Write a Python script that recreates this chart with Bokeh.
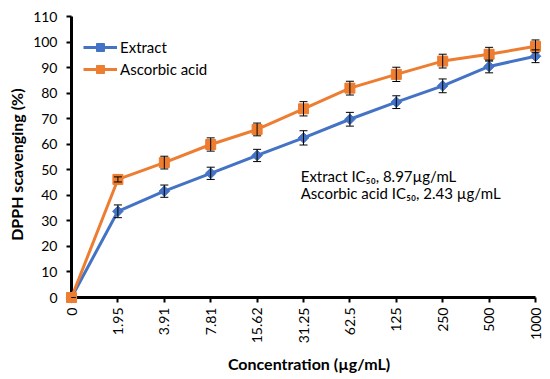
import math
from bokeh.plotting import figure
from bokeh.models import (ColumnDataSource, Range1d, FixedTicker, Whisker, TeeHead,
                          Label, Legend, LegendItem)
from bokeh.core.properties import value
from bokeh.embed import file_html
from bokeh.resources import INLINE

# ---- data ----
concentrations = ["0", "1.95", "3.91", "7.81", "15.62", "31.25", "62.5", "125", "250", "500", "1000"]
extract = [0, 33.8, 41.7, 48.7, 55.7, 62.6, 69.9, 76.6, 83.0, 90.6, 94.6]
extract_err = [0, 2.5, 2.4, 2.4, 2.4, 2.8, 2.7, 2.5, 2.7, 2.5, 2.5]
ascorbic = [0, 46.3, 52.9, 60.0, 65.9, 74.0, 82.1, 87.5, 92.7, 95.4, 98.5]
ascorbic_err = [0, 1.0, 2.5, 2.6, 2.5, 2.8, 2.7, 2.8, 2.7, 2.7, 2.5]
y_ticks = list(range(0, 111, 10))

BLUE = "#4472C4"
ORANGE = "#ED7D31"
FONT = "Lato"

idx = list(range(len(concentrations)))
src = ColumnDataSource(dict(
    x=idx,
    ext=extract,
    ext_lo=[v - e for v, e in zip(extract, extract_err)],
    ext_hi=[v + e for v, e in zip(extract, extract_err)],
    asc=ascorbic,
    asc_lo=[v - e for v, e in zip(ascorbic, ascorbic_err)],
    asc_hi=[v + e for v, e in zip(ascorbic, ascorbic_err)],
))

p = figure(width=550, height=379, output_backend="svg", toolbar_location=None,
           x_range=Range1d(0, 10.237), y_range=Range1d(0, 113.33),
           min_border_left=71, min_border_right=4, min_border_top=8, min_border_bottom=82)
p.outline_line_color = None
p.grid.visible = False
p.background_fill_color = "white"
p.border_fill_color = "white"

# axes
for ax in (p.xaxis[0], p.yaxis[0]):
    ax.axis_line_width = 3
    ax.axis_line_color = "black"
    ax.major_tick_line_width = 2
    ax.major_tick_line_color = "black"
    ax.major_tick_in = 0
    ax.major_tick_out = 5
    ax.minor_tick_line_color = None
    ax.major_label_text_font = FONT
    ax.major_label_text_font_size = "14px"
    ax.major_label_text_color = "black"
    ax.axis_label_text_font = FONT
    ax.axis_label_text_font_size = "16px"
    ax.axis_label_text_font_style = "bold"
    ax.axis_label_text_color = "black"

p.xaxis.bounds = (0, len(concentrations) - 1)
p.xaxis.ticker = FixedTicker(ticks=idx)
p.xaxis.major_label_overrides = {i: c for i, c in enumerate(concentrations)}
p.xaxis.major_label_orientation = math.pi / 2
p.xaxis.major_label_standoff = 5
p.xaxis.axis_label = "Concentration (µg/mL)"
p.xaxis.axis_label_standoff = 8

p.yaxis.bounds = (0, 110)
p.yaxis.ticker = FixedTicker(ticks=y_ticks)
p.yaxis.major_label_standoff = 9

# y-axis title, centred on the plotted value range like the original
p.text(x=[-1.184], y=[52.1], text=["DPPH scavenging (%)"], angle=math.pi / 2,
       text_align="center", text_baseline="middle", text_font=value(FONT),
       text_font_size="16px", text_font_style="bold", text_color="black",
       level="overlay")

# series
l1 = p.line("x", "ext", source=src, line_color=BLUE, line_width=3, level="overlay")
m1 = p.scatter("x", "ext", source=src, marker="square", angle=math.pi / 4, size=7.5,
               fill_color=BLUE, line_color=BLUE, level="overlay")
l2 = p.line("x", "asc", source=src, line_color=ORANGE, line_width=3, level="overlay")
m2 = p.scatter("x", "asc", source=src, marker="square", size=10,
               fill_color=ORANGE, line_color=ORANGE, level="overlay")

for lo, hi in (("ext_lo", "ext_hi"), ("asc_lo", "asc_hi")):
    w = Whisker(source=src, base="x", lower=lo, upper=hi, line_color="black", line_width=1,
                upper_head=TeeHead(size=8, line_color="black", line_width=1),
                lower_head=TeeHead(size=8, line_color="black", line_width=1),
                level="overlay")
    p.add_layout(w)

legend = Legend(items=[LegendItem(label="Extract", renderers=[l1, m1]),
                       LegendItem(label="Ascorbic acid", renderers=[l2, m2])],
                location=(12, 218), padding=0, margin=0, spacing=2,
                glyph_width=34, glyph_height=20, label_height=20, label_standoff=3,
                border_line_color=None, background_fill_alpha=0,
                label_text_font=FONT, label_text_font_size="15px",
                label_text_color="black")
p.add_layout(legend)

# annotation text
p.add_layout(Label(x=4.94, y=47.5, text="Extract IC₅₀, 8.97µg/mL", text_font=FONT,
                   text_font_size="15px", text_color="black", text_baseline="alphabetic"))
p.add_layout(Label(x=4.94, y=41.1, text="Ascorbic acid IC₅₀, 2.43 µg/mL", text_font=FONT,
                   text_font_size="15px", text_color="black", text_baseline="alphabetic"))

open("out.html", "w").write(file_html(p, INLINE))
